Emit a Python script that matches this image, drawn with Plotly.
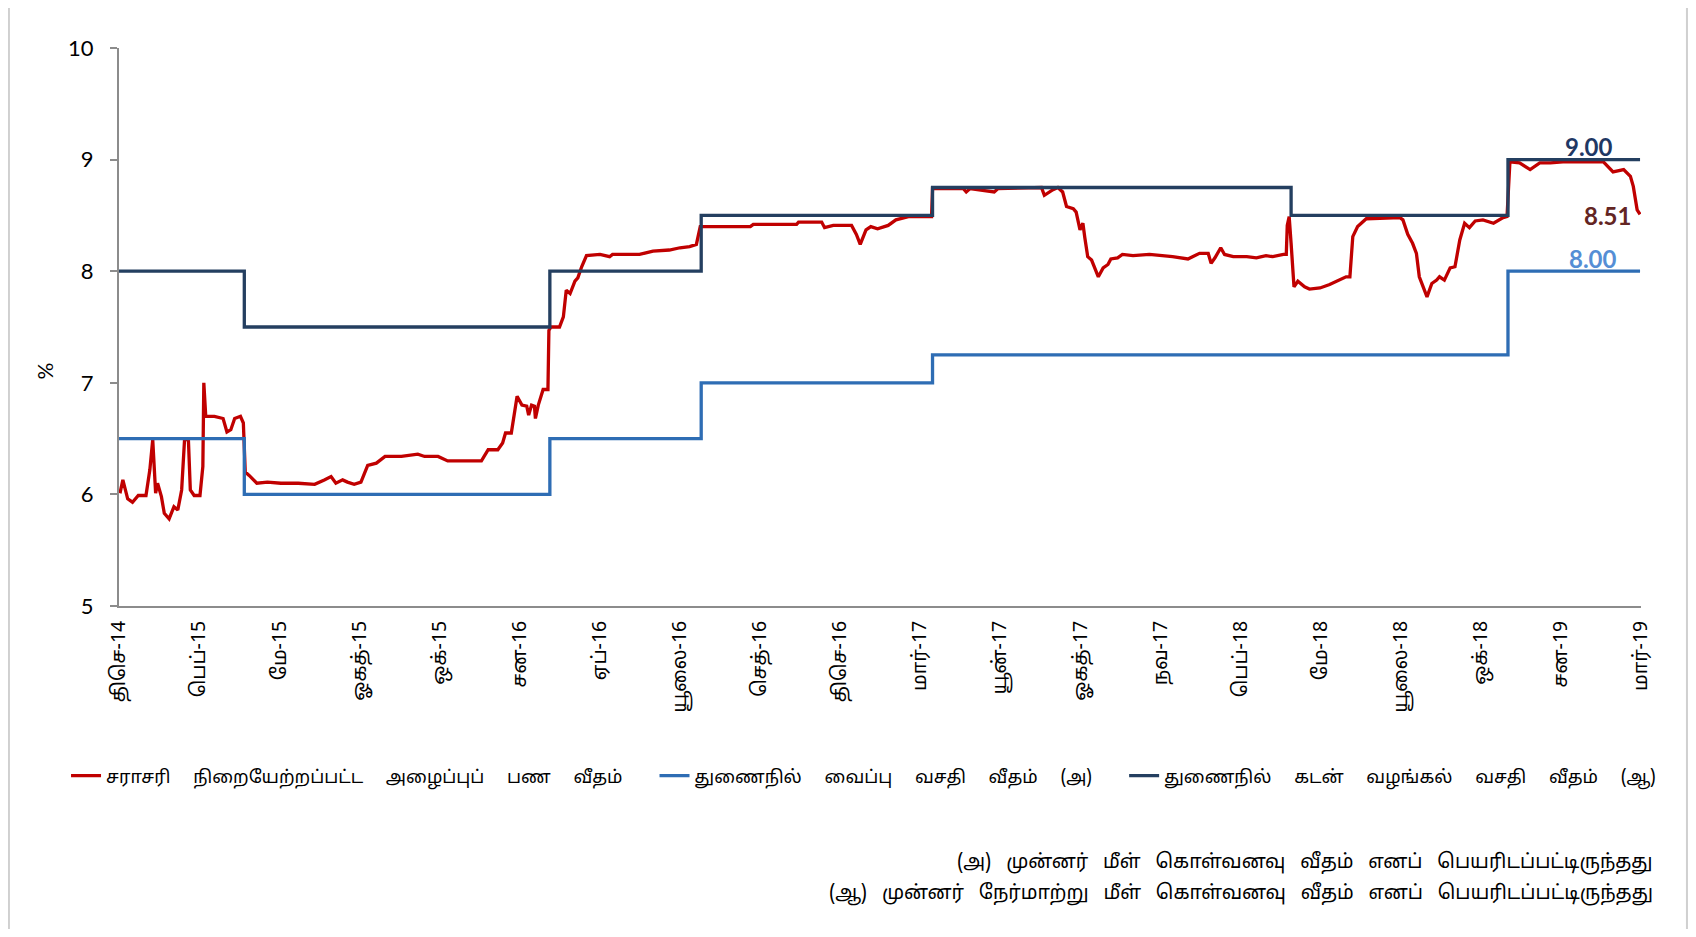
import plotly.graph_objects as go
import pandas as pd

# Average weighted call money rate
awcmr_dates = [
    "2014-12-02", "2014-12-05", "2014-12-10", "2014-12-15", "2014-12-21", "2014-12-29",
    "2015-01-02", "2015-01-05", "2015-01-08", "2015-01-10", "2015-01-14", "2015-01-17",
    "2015-01-22", "2015-01-27", "2015-01-31", "2015-02-04", "2015-02-07", "2015-02-11",
    "2015-02-13", "2015-02-17", "2015-02-23", "2015-02-26", "2015-02-27", "2015-03-01",
    "2015-03-10", "2015-03-19", "2015-03-23", "2015-03-27", "2015-03-31", "2015-04-06",
    "2015-04-09", "2015-04-11", "2015-04-15", "2015-04-23", "2015-05-04", "2015-05-18",
    "2015-06-05", "2015-06-22", "2015-07-02", "2015-07-09", "2015-07-14", "2015-07-21",
    "2015-07-26", "2015-08-02", "2015-08-09", "2015-08-16", "2015-08-25", "2015-09-03",
    "2015-09-20", "2015-10-07", "2015-10-14", "2015-10-28", "2015-11-07", "2015-12-12",
    "2015-12-19", "2015-12-29", "2016-01-03", "2016-01-06", "2016-01-12", "2016-01-18",
    "2016-01-23", "2016-01-28", "2016-01-30", "2016-02-02", "2016-02-05", "2016-02-06",
    "2016-02-09", "2016-02-14", "2016-02-19", "2016-02-20", "2016-02-22", "2016-03-02",
    "2016-03-06", "2016-03-09", "2016-03-13", "2016-03-18", "2016-03-21", "2016-03-25",
    "2016-03-30", "2016-04-13", "2016-04-23", "2016-04-26", "2016-05-24", "2016-06-07",
    "2016-06-24", "2016-07-05", "2016-07-15", "2016-07-22", "2016-07-26", "2016-09-16",
    "2016-09-19", "2016-11-03", "2016-11-05", "2016-11-29", "2016-12-02", "2016-12-11",
    "2016-12-30", "2017-01-04", "2017-01-08", "2017-01-14", "2017-01-19", "2017-01-26",
    "2017-02-06", "2017-02-14", "2017-02-28", "2017-03-23", "2017-03-24", "2017-04-25",
    "2017-04-28", "2017-05-02", "2017-05-27", "2017-05-31", "2017-07-15", "2017-07-18",
    "2017-07-27", "2017-08-01", "2017-08-06", "2017-08-10", "2017-08-17", "2017-08-20",
    "2017-08-24", "2017-08-27", "2017-08-29", "2017-09-01", "2017-09-05", "2017-09-10",
    "2017-09-12", "2017-09-17", "2017-09-22", "2017-09-25", "2017-10-02", "2017-10-07",
    "2017-10-18", "2017-11-04", "2017-11-18", "2017-11-28", "2017-12-14", "2017-12-19",
    "2017-12-26", "2018-01-04", "2018-01-07", "2018-01-11", "2018-01-17", "2018-01-21",
    "2018-01-30", "2018-02-13", "2018-02-23", "2018-03-05", "2018-03-12", "2018-03-23",
    "2018-03-26", "2018-03-27", "2018-03-29", "2018-03-31", "2018-04-03", "2018-04-07",
    "2018-04-14", "2018-04-19", "2018-04-30", "2018-05-10", "2018-05-20", "2018-05-27",
    "2018-05-31", "2018-06-03", "2018-06-08", "2018-06-17", "2018-07-22", "2018-07-25",
    "2018-07-30", "2018-08-04", "2018-08-08", "2018-08-11", "2018-08-15", "2018-08-19",
    "2018-08-24", "2018-08-29", "2018-09-01", "2018-09-06", "2018-09-12", "2018-09-17",
    "2018-09-22", "2018-09-27", "2018-10-02", "2018-10-08", "2018-10-16", "2018-10-27",
    "2018-11-06", "2018-11-10", "2018-11-13", "2018-11-23", "2018-12-04", "2018-12-14",
    "2018-12-25", "2019-01-07", "2019-01-28", "2019-02-18", "2019-02-28", "2019-03-11",
    "2019-03-18", "2019-03-21", "2019-03-25", "2019-03-28",
]
awcmr_values = [
    6.01, 6.13, 5.96, 5.93, 5.99, 5.99,
    6.22, 6.49, 6.01, 6.10, 5.98, 5.83,
    5.78, 5.89, 5.86, 6.04, 6.49, 6.49,
    6.04, 5.99, 5.99, 6.25, 7.00, 6.70,
    6.70, 6.68, 6.56, 6.58, 6.68, 6.70,
    6.64, 6.20, 6.17, 6.10, 6.11, 6.10,
    6.10, 6.09, 6.13, 6.16, 6.10, 6.13,
    6.11, 6.09, 6.11, 6.26, 6.28, 6.34,
    6.34, 6.36, 6.34, 6.34, 6.30, 6.30,
    6.40, 6.40, 6.46, 6.55, 6.55, 6.88,
    6.80, 6.79, 6.71, 6.80, 6.79, 6.68,
    6.80, 6.94, 6.94, 7.47, 7.50, 7.50,
    7.59, 7.83, 7.80, 7.91, 7.94, 8.04,
    8.14, 8.15, 8.13, 8.15, 8.15, 8.18,
    8.19, 8.21, 8.22, 8.24, 8.40, 8.40,
    8.42, 8.42, 8.44, 8.44, 8.39, 8.41,
    8.41, 8.33, 8.24, 8.37, 8.40, 8.38,
    8.41, 8.46, 8.49, 8.49, 8.74, 8.74,
    8.71, 8.74, 8.71, 8.74, 8.75, 8.68,
    8.73, 8.75, 8.71, 8.58, 8.56, 8.53,
    8.37, 8.43, 8.30, 8.13, 8.10, 7.98,
    7.95, 8.03, 8.06, 8.11, 8.12, 8.15,
    8.14, 8.15, 8.14, 8.13, 8.11, 8.13,
    8.16, 8.16, 8.07, 8.12, 8.21, 8.15,
    8.13, 8.13, 8.12, 8.14, 8.13, 8.15,
    8.15, 8.41, 8.49, 8.25, 7.86, 7.91,
    7.86, 7.84, 7.85, 7.88, 7.92, 7.95,
    7.95, 8.31, 8.40, 8.47, 8.48, 8.46,
    8.33, 8.25, 8.16, 7.95, 7.86, 7.77,
    7.89, 7.92, 7.95, 7.92, 8.03, 8.04,
    8.28, 8.43, 8.39, 8.45, 8.46, 8.43,
    8.48, 8.49, 8.98, 8.97, 8.91, 8.97,
    8.97, 8.98, 8.98, 8.98, 8.89, 8.91,
    8.85, 8.76, 8.55, 8.51,
]

# Standing deposit facility rate (step series)
sdfr_dates = ["2014-12-01", "2015-04-10", "2016-02-21", "2016-07-27", "2017-03-24",
              "2018-11-11", "2019-03-28"]
sdfr_values = [6.50, 6.00, 6.50, 7.00, 7.25, 8.00, 8.00]

# Standing lending facility rate (step series)
slfr_dates = ["2014-12-01", "2015-04-10", "2016-02-21", "2016-07-27", "2017-03-24",
              "2018-03-31", "2018-11-11", "2019-03-28"]
slfr_values = [8.00, 7.50, 8.00, 8.50, 8.75, 8.50, 9.00, 9.00]

series_names = [
    "சராசரி நிறையேற்றப்பட்ட அழைப்புப் பண வீதம்",
    "துணைநில் வைப்பு வசதி வீதம் (அ)",
    "துணைநில் கடன் வழங்கல் வசதி வீதம் (ஆ)",
]

tick_labels = [
    "திசெ-14", "பெப்-15", "மே-15", "ஓகத்-15", "ஒக்-15", "சன-16", "ஏப்-16",
    "யூலை-16", "செத்-16", "திசெ-16", "மார்-17", "யூன்-17", "ஓகத்-17", "நவ-17",
    "பெப்-18", "மே-18", "யூலை-18", "ஒக்-18", "சன-19", "மார்-19",
]

footnotes = [
    "(அ) முன்னர் மீள் கொள்வனவு வீதம் எனப் பெயரிடப்பட்டிருந்தது",
    "(ஆ) முன்னர் நேர்மாற்று மீள் கொள்வனவு வீதம் எனப் பெயரிடப்பட்டிருந்தது",
]

x_start, x_end = "2014-12-01", "2019-03-29"
tick_vals = pd.date_range(x_start, x_end, periods=len(tick_labels))

RED = "#C00000"
BLUE = "#2E6DB4"
NAVY = "#243F60"
TAMIL = "Noto Sans Tamil, Latha, Noto Sans, sans-serif"
NUM = "Lato, Open Sans, sans-serif"


def spread(text, gap):
    # the original text is set with wide word spacing
    return text.replace(" ", " " + gap)


legend_names = [spread(n, "\u2003") for n in series_names]
legend_names[0] += "\u2003\u2002"
legend_names[1] += "\u2003\u2002"

fig = go.Figure()
fig.add_trace(go.Scatter(
    x=awcmr_dates, y=awcmr_values, mode="lines", name=legend_names[0],
    line=dict(color=RED, width=3.3),
))
fig.add_trace(go.Scatter(
    x=sdfr_dates, y=sdfr_values, mode="lines", name=legend_names[1],
    line=dict(color=BLUE, width=3.3, shape="hv"),
))
fig.add_trace(go.Scatter(
    x=slfr_dates, y=slfr_values, mode="lines", name=legend_names[2],
    line=dict(color=NAVY, width=3.3, shape="hv"),
))

# end-of-series value labels
fig.add_annotation(x=slfr_dates[-1], y=slfr_values[-1], text="<b>9.00</b>",
                   showarrow=False, xshift=-51, yshift=13,
                   font=dict(family=NUM, size=24, color="#1F3864"))
fig.add_annotation(x=awcmr_dates[-1], y=awcmr_values[-1], text="<b>8.51</b>",
                   showarrow=False, xshift=-33, yshift=-1,
                   font=dict(family=NUM, size=24, color="#632523"))
fig.add_annotation(x=sdfr_dates[-1], y=sdfr_values[-1], text="<b>8.00</b>",
                   showarrow=False, xshift=-47, yshift=13,
                   font=dict(family=NUM, size=24, color="#558ED5"))

# y axis title
fig.add_annotation(xref="paper", yref="paper", x=-0.049, y=0.421, text="%",
                   xanchor="center", yanchor="middle", textangle=-90,
                   showarrow=False,
                   font=dict(family=NUM, size=21, color="#000000"))

# footnotes
for yy, note in zip((-0.459, -0.516), footnotes):
    fig.add_annotation(xref="paper", yref="paper", x=1.009, y=yy,
                       xanchor="right", yanchor="middle",
                       text=spread(note, "\u2002"), showarrow=False,
                       font=dict(family=TAMIL, size=19.5, color="#000000"))

# light outer frame (left and right edges)
for xe in (-0.0723, 1.0302):
    fig.add_shape(type="line", xref="paper", yref="paper", x0=xe, x1=xe,
                  y0=-0.6, y1=1.09, line=dict(color="#D0D0D0", width=2))

# page body has an 8px margin, so the figure is 16px smaller than the window
fig.update_layout(
    width=1680, height=921,
    margin=dict(l=111, r=47, t=40, b=323),
    plot_bgcolor="#ffffff", paper_bgcolor="#ffffff",
    showlegend=True,
    # left of and below the plot area so the row may be wider than the plot
    legend=dict(orientation="h", xref="paper", yref="paper",
                x=-0.0348, y=-0.3047, xanchor="left", yanchor="middle",
                font=dict(family=TAMIL, size=18, color="#000000"),
                itemwidth=30),
    xaxis=dict(
        type="date", range=[x_start, x_end],
        tickvals=tick_vals, ticktext=tick_labels, tickangle=-90,
        tickfont=dict(family=TAMIL, size=19.5, color="#000000"),
        showgrid=False, zeroline=False,
        showline=True, linecolor="#8C8C8C", linewidth=2, ticks="",
        ticklabelstandoff=5,
    ),
    yaxis=dict(
        range=[5, 10], dtick=1, tick0=5,
        tickfont=dict(family=NUM, size=22, color="#000000"),
        showgrid=False, zeroline=False,
        showline=True, linecolor="#8C8C8C", linewidth=2,
        ticks="outside", ticklen=7, tickcolor="#8C8C8C", tickwidth=2,
        ticklabelstandoff=12,
    ),
)

fig.write_html("out.html")
